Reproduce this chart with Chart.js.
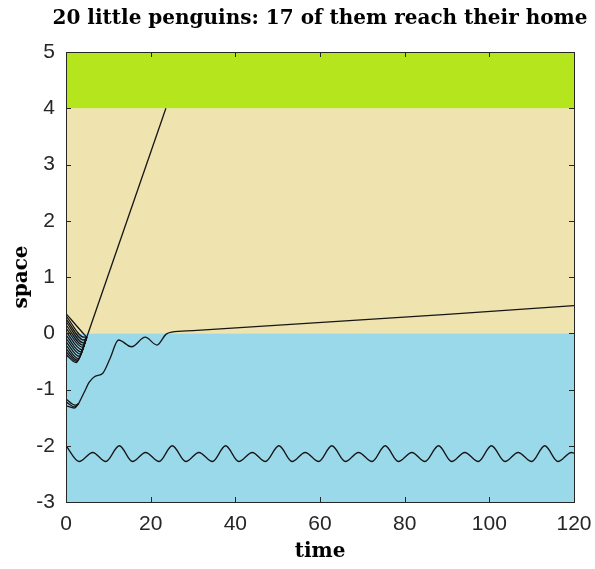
<!DOCTYPE html>
<html>
<head>
<meta charset="utf-8">
<script src="https://cdn.jsdelivr.net/npm/chart.js@4.4.0/dist/chart.umd.min.js"></script>
<style>
  html, body { margin: 0; padding: 0; background: #fff; }
</style>
</head>
<body>
<canvas id="grafico" width="595" height="569"></canvas>
<script>
// textos
const chartTitle = "20 little penguins: 17 of them reach their home";

// eixos
const xLimits = [0, 120];
const yLimits = [-3, 5];
const xTicks = [0, 20, 40, 60, 80, 100, 120];
const yTicks = [-3, -2, -1, 0, 1, 2, 3, 4, 5];

// faixas do fundo (mar, praia, casa)
const zoneEdges = [-3, 0, 4, 5];
const zoneColors = ["#99d9ea", "#efe4b0", "#b5e61d"];

// grupo que sobe rapido (14 pinguins)
const fastStartY = [0.35, 0.31, 0.26, 0.21, 0.15, 0.09, 0.03, -0.03, -0.09, -0.15, -0.21, -0.27, -0.33, -0.38];
const fastDipX   = [4.4, 4.3, 4.2, 4.1, 4.0, 3.9, 3.7, 3.5, 3.3, 3.1, 2.9, 2.7, 2.5, 2.4];
const fastDipY   = [-0.03, -0.07, -0.12, -0.17, -0.21, -0.25, -0.29, -0.33, -0.37, -0.41, -0.45, -0.48, -0.50, -0.52];
const fastMerge  = [4.9, -0.07];
const fastPathX  = [4.9, 23.6];
const fastPathY  = [-0.07, 4.0];

// grupo lento (3 pinguins)
const slowStartY = [-1.17, -1.22, -1.29];
const slowDipX   = [2.2, 2.1, 2.0];
const slowDipY   = [-1.28, -1.31, -1.33];
const slowPathX  = [3.0, 4.3, 5.5, 6.8, 8.7, 10.4, 12.4, 15.5, 18.7, 21.5, 23.6, 25, 30, 120];
const slowPathY  = [-1.25, -1.05, -0.87, -0.77, -0.71, -0.45, -0.12, -0.24, -0.07, -0.21, -0.02, 0.02, 0.045, 0.49];

// os 3 que ficam presos no mar
const waveX = [0, 3.1, 6.3, 9.4, 12.6, 15.7, 18.8, 22.0, 25.1, 28.3, 31.4, 34.6, 37.7, 40.8, 44.0, 47.1,
  50.3, 53.4, 56.5, 59.7, 62.8, 66.0, 69.1, 72.3, 75.4, 78.5, 81.7, 84.8, 88.0, 91.1, 94.2, 97.4,
  100.5, 103.7, 106.8, 110.0, 113.1, 116.2, 119.4, 120];
const waveY = [-2.0, -2.28, -2.12, -2.28, -2.0, -2.28, -2.12, -2.28, -2.0, -2.28, -2.12, -2.28, -2.0, -2.28, -2.12, -2.28,
  -2.0, -2.28, -2.12, -2.28, -2.0, -2.28, -2.12, -2.28, -2.0, -2.28, -2.12, -2.28, -2.0, -2.28, -2.12, -2.28,
  -2.0, -2.28, -2.12, -2.28, -2.0, -2.28, -2.12, -2.13];

const lineColor = "#161616";
const axisColor = "#262626";

function pontos(xs, ys) {
  return xs.map((x, i) => ({ x: x, y: ys[i] }));
}

function linha(data, smooth) {
  return {
    data: data,
    borderColor: lineColor,
    borderWidth: 1.3,
    pointRadius: 0,
    fill: false,
    tension: 0,
    cubicInterpolationMode: smooth ? "monotone" : "default"
  };
}

const datasets = [];
fastStartY.forEach((y0, i) => {
  datasets.push(linha(pontos([0, fastDipX[i], fastMerge[0]], [y0, fastDipY[i], fastMerge[1]]), true));
});
datasets.push(linha(pontos(fastPathX, fastPathY), false));
slowStartY.forEach((y0, i) => {
  datasets.push(linha(pontos([0, slowDipX[i], slowPathX[0]], [y0, slowDipY[i], slowPathY[0]]), true));
});
datasets.push(linha(pontos(slowPathX, slowPathY), true));
datasets.push(linha(pontos(waveX, waveY), true));

const fundo = {
  id: "fundo",
  beforeDatasetsDraw(chart) {
    const { ctx, chartArea, scales } = chart;
    ctx.save();
    for (let i = 0; i < zoneColors.length; i++) {
      const top = scales.y.getPixelForValue(zoneEdges[i + 1]);
      const bottom = scales.y.getPixelForValue(zoneEdges[i]);
      ctx.fillStyle = zoneColors[i];
      ctx.fillRect(chartArea.left, top, chartArea.right - chartArea.left, bottom - top);
    }
    ctx.restore();
  },
  afterDatasetsDraw(chart) {
    const { ctx, chartArea: a, scales } = chart;
    const len = 5;
    ctx.save();
    ctx.strokeStyle = axisColor;
    ctx.lineWidth = 1;
    ctx.beginPath();
    xTicks.forEach(v => {
      const px = Math.round(scales.x.getPixelForValue(v)) + 0.5;
      ctx.moveTo(px, a.bottom); ctx.lineTo(px, a.bottom - len);
      ctx.moveTo(px, a.top); ctx.lineTo(px, a.top + len);
    });
    yTicks.forEach(v => {
      const py = Math.round(scales.y.getPixelForValue(v)) + 0.5;
      ctx.moveTo(a.left, py); ctx.lineTo(a.left + len, py);
      ctx.moveTo(a.right, py); ctx.lineTo(a.right - len, py);
    });
    ctx.stroke();
    ctx.strokeRect(Math.round(a.left) + 0.5, Math.round(a.top) + 0.5,
      Math.round(a.right - a.left), Math.round(a.bottom - a.top));

    // titulo centrado sobre a area do grafico
    ctx.fillStyle = "#000";
    ctx.font = "bold 20px 'DejaVu Serif'";
    ctx.textAlign = "center";
    ctx.textBaseline = "middle";
    ctx.fillText(chartTitle, (a.left + a.right) / 2, 19);
    ctx.restore();
  }
};

new Chart(document.getElementById("grafico"), {
  type: "line",
  data: { datasets },
  plugins: [fundo],
  options: {
    responsive: false,
    animation: false,
    events: [],
    layout: { padding: { right: 21, left: 0, top: 52, bottom: 0 } },
    plugins: {
      legend: { display: false },
      tooltip: { enabled: false },
      title: { display: false }
    },
    scales: {
      x: {
        type: "linear",
        min: xLimits[0],
        max: xLimits[1],
        afterBuildTicks: s => { s.ticks = xTicks.map(v => ({ value: v })); },
        afterFit: s => { s.height = 67; s.paddingLeft = 0; s.paddingRight = 0; },
        grid: { display: false, drawTicks: false },
        border: { display: false },
        ticks: {
          color: axisColor,
          padding: 10,
          maxRotation: 0,
          font: { family: "Liberation Sans", size: 21 }
        },
        title: {
          display: true,
          text: "time",
          color: "#000",
          font: { family: "DejaVu Serif", size: 20, weight: "bold" },
          padding: { top: 0, bottom: 5 }
        }
      },
      y: {
        type: "linear",
        min: yLimits[0],
        max: yLimits[1],
        afterBuildTicks: s => { s.ticks = yTicks.map(v => ({ value: v })); },
        afterFit: s => { s.width = 66; s.paddingTop = 0; s.paddingBottom = 0; },
        grid: { display: false, drawTicks: false },
        border: { display: false },
        ticks: {
          color: axisColor,
          padding: 11,
          font: { family: "Liberation Sans", size: 21 }
        },
        title: {
          display: true,
          text: "space",
          color: "#000",
          font: { family: "DejaVu Serif", size: 20, weight: "bold" },
          padding: { top: 10, bottom: 0 }
        }
      }
    }
  }
});
</script>
</body>
</html>
